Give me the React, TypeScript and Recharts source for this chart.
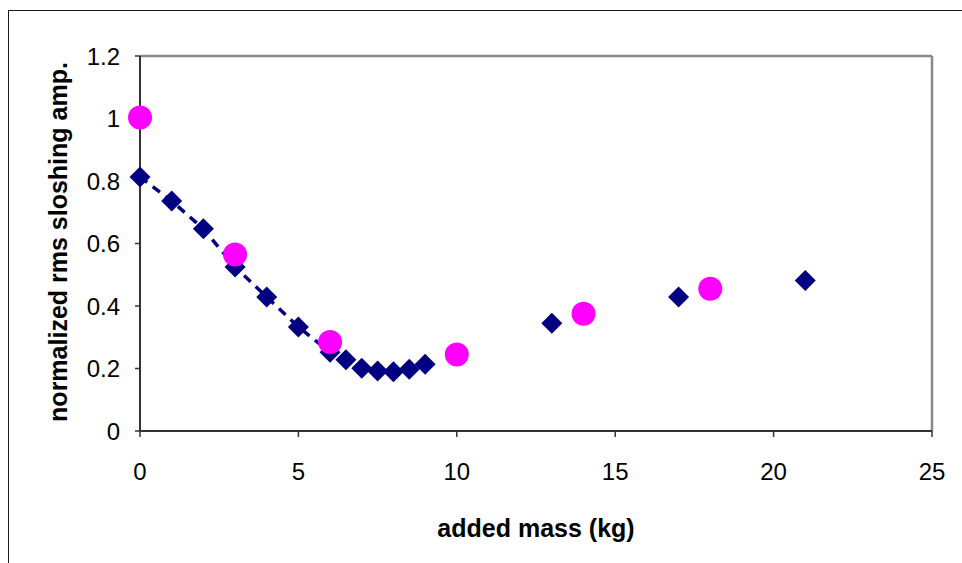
import {
  ReferenceLine,
  Scatter,
  ScatterChart,
  XAxis,
  YAxis,
} from "recharts";

// added mass (kg) / normalized rms sloshing amplitude
const diamondMass = [0, 1, 2, 3, 4, 5, 6, 6.5, 7, 7.5, 8, 8.5, 9, 13, 17, 21];
const diamondAmp = [
  0.813, 0.736, 0.647, 0.525, 0.429, 0.333, 0.252, 0.228, 0.201, 0.192, 0.19,
  0.198, 0.214, 0.345, 0.429, 0.482,
];
// the first points are joined by the dashed line
const dashedCount = 13;

const circleMass = [0, 3, 6, 10, 14, 18];
const circleAmp = [1.003, 0.565, 0.285, 0.245, 0.375, 0.455];

const xTicks = [0, 5, 10, 15, 20, 25];
const yTicks = [0, 0.2, 0.4, 0.6, 0.8, 1, 1.2];

const FONT = '"Liberation Sans", Arial, sans-serif';
const NAVY = "#000080";
const PINK = "#ff00ff";

const toPoints = (xs: number[], ys: number[]) =>
  xs.map((x, i) => ({ x, y: ys[i] }));

// eslint-disable-next-line @typescript-eslint/no-explicit-any
const Diamond = (props: any) => {
  const { cx, cy } = props;
  if (cx == null || cy == null) return null;
  const r = 10.5;
  return (
    <polygon
      points={`${cx},${cy - r} ${cx + r},${cy} ${cx},${cy + r} ${cx - r},${cy}`}
      fill={NAVY}
    />
  );
};

// eslint-disable-next-line @typescript-eslint/no-explicit-any
const Dot = (props: any) => {
  const { cx, cy } = props;
  if (cx == null || cy == null) return null;
  return <circle cx={cx} cy={cy} r={12} fill={PINK} />;
};

export default function App() {
  const all = toPoints(diamondMass, diamondAmp);
  const dashed = all.slice(0, dashedCount);
  const rest = all.slice(dashedCount);
  const circles = toPoints(circleMass, circleAmp);

  const tick = { fontSize: 24, fill: "#000", fontFamily: FONT };

  return (
    <div
      style={{
        position: "absolute",
        left: 0,
        top: 0,
        width: 962,
        height: 563,
        overflow: "hidden",
        background: "#fff",
        fontFamily: FONT,
      }}
    >
      <div
        style={{
          position: "absolute",
          left: 8,
          top: 10,
          width: 1000,
          height: 600,
          border: "1.5px solid #1a1a1a",
          boxSizing: "border-box",
        }}
      />
      <ScatterChart
        width={962}
        height={563}
        margin={{ top: 56, right: 30, bottom: 72, left: 0 }}
        style={{ position: "absolute", left: 0, top: 0 }}
      >
        <XAxis
          type="number"
          dataKey="x"
          domain={[0, 25]}
          ticks={xTicks}
          height={60}
          tick={tick}
          tickSize={6}
          tickMargin={26}
          axisLine={{ stroke: "#333", strokeWidth: 2 }}
          tickLine={{ stroke: "#333", strokeWidth: 1.5 }}
        />
        <YAxis
          type="number"
          dataKey="y"
          domain={[0, 1.2]}
          ticks={yTicks}
          width={140}
          tick={tick}
          tickSize={5}
          tickMargin={15}
          axisLine={{ stroke: "#333", strokeWidth: 2 }}
          tickLine={{ stroke: "#333", strokeWidth: 1.5 }}
        />
        <ReferenceLine y={1.2} stroke="#888" strokeWidth={2.5} />
        <ReferenceLine x={25} stroke="#888" strokeWidth={2.5} />
        <Scatter
          data={dashed}
          shape={Diamond}
          line={{ stroke: NAVY, strokeWidth: 3.5, strokeDasharray: "9 7" }}
          lineType="joint"
          isAnimationActive={false}
        />
        <Scatter data={rest} shape={Diamond} isAnimationActive={false} />
        <Scatter data={circles} shape={Dot} isAnimationActive={false} />
      </ScatterChart>
      <div
        style={{
          position: "absolute",
          left: 536,
          top: 528,
          transform: "translate(-50%, -50%)",
          fontSize: 25,
          fontWeight: "bold",
          whiteSpace: "nowrap",
        }}
      >
        added mass (kg)
      </div>
      <div
        style={{
          position: "absolute",
          left: 58,
          top: 242,
          transform: "translate(-50%, -50%) rotate(-90deg)",
          fontSize: 25,
          fontWeight: "bold",
          whiteSpace: "nowrap",
        }}
      >
        normalized rms sloshing amp.
      </div>
    </div>
  );
}
